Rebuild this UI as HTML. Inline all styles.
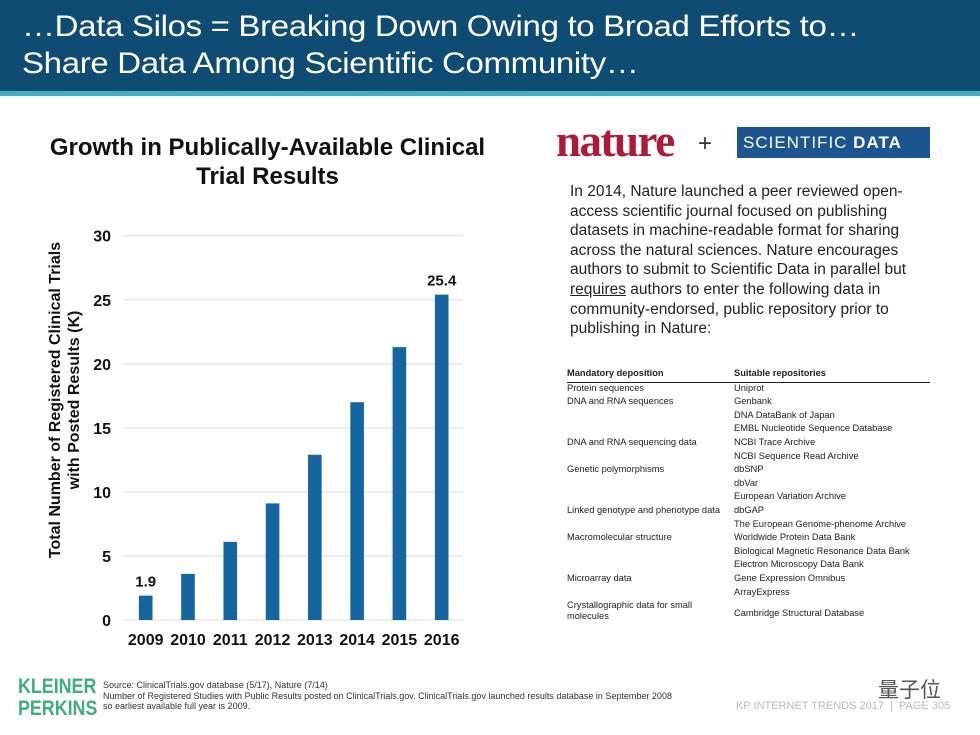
<!DOCTYPE html>
<html><head><meta charset="utf-8">
<style>
body{margin:0;width:980px;height:735px;background:#fff;overflow:hidden;font-family:"Liberation Sans",sans-serif;position:relative}
.hdr{position:absolute;left:0;top:0;width:980px;height:91px;background:#0f4c74}
.stripe{position:absolute;left:0;top:91px;width:980px;height:5px;background:#3fb0c6}
.t{position:absolute;left:22px;color:#fff;font-size:30px;letter-spacing:-0.3px;white-space:nowrap;transform:scaleX(1.1);transform-origin:left}
.abs{position:absolute;white-space:nowrap}
table{border-collapse:collapse;font-size:9.3px;color:#222;table-layout:fixed}
td{padding:0;height:13.6px;vertical-align:top;white-space:normal}
</style></head><body>
<div class="hdr"></div>
<div class="stripe"></div>
<div class="t" style="top:10px">…Data Silos = Breaking Down Owing to Broad Efforts to…</div>
<div class="t" style="top:47px">Share Data Among Scientific Community…</div>

<div class="abs" style="left:0;width:535px;top:133px;text-align:center;font-weight:bold;font-size:24px;line-height:29px;color:#111">Growth in Publically-Available Clinical<br>Trial Results</div>

<svg id="chart" class="abs" style="left:0;top:0" width="540" height="660"></svg>

<div class="abs" style="left:556px;top:115px;font-family:'Liberation Serif',serif;font-weight:bold;font-size:45px;color:#b0183a;letter-spacing:-1.5px">nature</div>
<div class="abs" style="left:698px;top:130px;font-size:24px;color:#333">+</div>
<div class="abs" style="left:737px;top:127px;width:193px;height:31px;background:#1d5590;color:#fff;font-size:17px;line-height:31px;padding-left:6px;box-sizing:border-box;letter-spacing:1px">SCIENTIFIC <b>DATA</b></div>

<div class="abs" style="left:570px;top:182px;width:360px;white-space:normal;font-size:15.5px;line-height:19.6px;color:#222">In 2014, Nature launched a peer reviewed open-access scientific journal focused on publishing datasets in machine-readable format for sharing across the natural sciences. Nature encourages authors to submit to Scientific Data in parallel but <u>requires</u> authors to enter the following data in community-endorsed, public repository prior to publishing in Nature:</div>

<table class="abs" style="left:567px;top:368px;width:363px">
<colgroup><col style="width:167px"><col></colgroup>
<tr style="border-bottom:1.5px solid #222"><td style="font-weight:bold">Mandatory deposition</td><td style="font-weight:bold">Suitable repositories</td></tr>
<tr><td>Protein sequences</td><td>Uniprot</td></tr>
<tr><td>DNA and RNA sequences</td><td>Genbank</td></tr>
<tr><td></td><td>DNA DataBank of Japan</td></tr>
<tr><td></td><td>EMBL Nucleotide Sequence Database</td></tr>
<tr><td>DNA and RNA sequencing data</td><td>NCBI Trace Archive</td></tr>
<tr><td></td><td>NCBI Sequence Read Archive</td></tr>
<tr><td>Genetic polymorphisms</td><td>dbSNP</td></tr>
<tr><td></td><td>dbVar</td></tr>
<tr><td></td><td>European Variation Archive</td></tr>
<tr><td>Linked genotype and phenotype data</td><td>dbGAP</td></tr>
<tr><td></td><td>The European Genome-phenome Archive</td></tr>
<tr><td>Macromolecular structure</td><td>Worldwide Protein Data Bank</td></tr>
<tr><td></td><td>Biological Magnetic Resonance Data Bank</td></tr>
<tr><td></td><td>Electron Microscopy Data Bank</td></tr>
<tr><td>Microarray data</td><td>Gene Expression Omnibus</td></tr>
<tr><td></td><td>ArrayExpress</td></tr>
<tr><td style="line-height:10.5px;height:26px;padding-right:30px">Crystallographic data for small molecules</td><td style="vertical-align:middle">Cambridge Structural Database</td></tr>
</table>

<div class="abs" style="left:18px;top:676px;font-weight:bold;font-size:21px;line-height:22px;color:#3fae7c;transform:scaleX(0.85);transform-origin:left">KLEINER<br>PERKINS</div>
<div class="abs" style="left:103px;top:680px;font-size:9px;line-height:10.5px;color:#333">Source: ClinicalTrials.gov database (5/17), Nature (7/14)<br>Number of Registered Studies with Public Results posted on ClinicalTrials.gov. ClinicalTrials.gov launched results database in September 2008<br>so earliest available full year is 2009.</div>
<div class="abs" style="left:878px;top:674px;font-size:21px;color:#555;font-family:'Liberation Sans','Noto Sans CJK SC',sans-serif">量子位</div>
<div class="abs" style="left:736px;top:700px;font-size:11px;color:#bbb">KP INTERNET TRENDS 2017 &nbsp;| &nbsp;PAGE 305</div>

<script>
const categories=["2009","2010","2011","2012","2013","2014","2015","2016"];
const values=[1.9,3.6,6.1,9.1,12.9,17.0,21.3,25.4];
const ticks=[0,5,10,15,20,25,30];
const labelled={0:"1.9",7:"25.4"};
const svg=document.getElementById('chart');
const NS='http://www.w3.org/2000/svg';
const y0=620,y1=235.7,vmax=30,xL=123,xR=463;
const yS=v=>y0-(y0-y1)*v/vmax;
const step=(441.7-145.7)/7;
const xS=i=>145.7+i*step;
function mk(t,a){const e=document.createElementNS(NS,t);for(const k in a)e.setAttribute(k,a[k]);svg.appendChild(e);return e;}
ticks.forEach(t=>{
 const g=mk('line',{x1:xL,x2:xR,y1:yS(t),y2:yS(t),stroke:'#e3e3e3','stroke-width':1.3});
 
 
 const l=mk('text',{x:111,y:yS(t)+6,'text-anchor':'end','font-size':16,'font-weight':'bold',fill:'#111','font-family':'Liberation Sans'});
 l.textContent=t;
 
 
});
values.forEach((v,i)=>{
 const b=mk('rect',{x:xS(i)-6.8,y:yS(v),width:13.6,height:y0-yS(v),fill:'#1565a0'});
 
 
 const c=mk('text',{x:xS(i),y:645,'text-anchor':'middle','font-size':16,'font-weight':'bold',fill:'#111','font-family':'Liberation Sans'});
 c.textContent=categories[i];
 
 
 if(labelled[i]){
  const d=mk('text',{x:xS(i),y:yS(v)-9,'text-anchor':'middle','font-size':15,'font-weight':'bold',fill:'#111','font-family':'Liberation Sans'});
  d.textContent=labelled[i];
  
  
 }
});
const yt=mk('text',{transform:'translate(60,400) rotate(-90)','text-anchor':'middle','font-size':16,'font-weight':'bold',fill:'#111','font-family':'Liberation Sans'});


const s1=document.createElementNS(NS,'tspan');s1.setAttribute('x',0);s1.setAttribute('dy',0);s1.textContent='Total Number of Registered Clinical Trials';yt.appendChild(s1);
const s2=document.createElementNS(NS,'tspan');s2.setAttribute('x',0);s2.setAttribute('dy',19);s2.textContent='with Posted Results (K)';yt.appendChild(s2);
</script>
</body></html>
